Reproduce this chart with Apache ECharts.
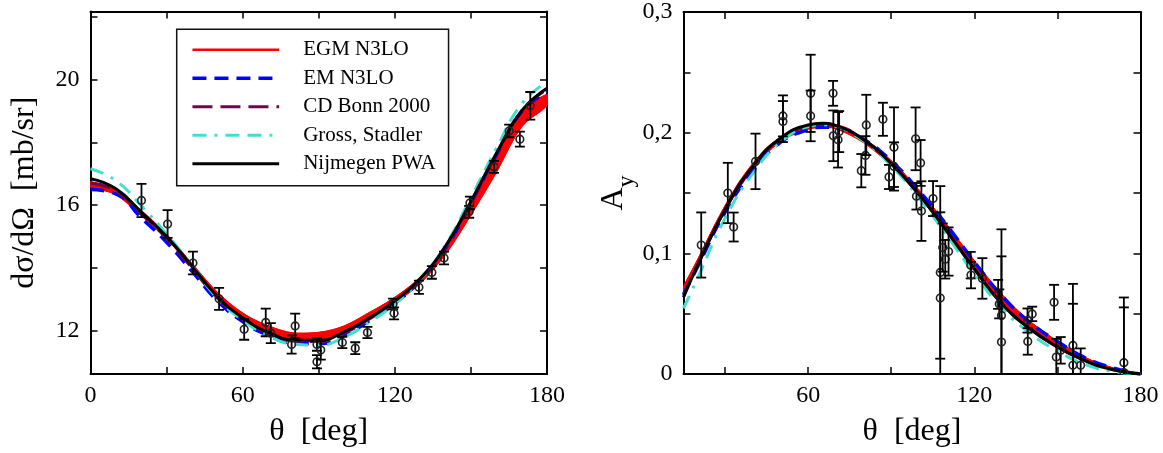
<!DOCTYPE html>
<html>
<head>
<meta charset="utf-8">
<script src="https://cdn.jsdelivr.net/npm/echarts@6/dist/echarts.min.js"></script>
<style>html,body{margin:0;padding:0;background:#fff;}#c{width:1163px;height:453px;}</style>
</head>
<body>
<div id="c"></div>
<script>
// ---------- Left panel: differential cross section ----------
const thetaL = [0,10,20,30,40,50,60,70,80,90,100,110,120,130,140,150,160,170,180];
const nijL   = [16.84,16.52,15.78,15.00,14.06,13.10,12.42,11.96,11.72,11.70,11.97,12.42,12.95,13.66,14.70,16.12,17.64,19.00,19.72];
const egmLoL = [16.58,16.34,15.68,14.94,14.02,13.08,12.40,11.98,11.72,11.72,11.92,12.38,12.90,13.52,14.45,15.70,17.05,18.50,19.17];
const egmHiL = [16.74,16.48,15.82,15.06,14.13,13.22,12.56,12.16,11.93,11.95,12.15,12.58,13.06,13.70,14.68,16.05,17.55,18.95,19.52];
const emL    = [16.50,16.36,15.60,14.82,13.90,12.96,12.30,11.86,11.62,11.60,11.85,12.33,12.88,13.62,14.64,16.08,17.60,18.98,19.60];
const cdL    = [16.70,16.45,15.72,14.94,14.00,13.05,12.38,11.92,11.68,11.66,11.93,12.38,12.92,13.64,14.68,16.10,17.62,19.00,19.68];
const grossL = [17.16,16.78,15.98,15.08,14.08,13.04,12.34,11.86,11.58,11.55,11.80,12.28,12.86,13.64,14.74,16.24,17.80,19.22,19.92];
const expThetaL = [20.1,30.4,40.4,50.7,60.6,69.1,71.1,79.3,80.7,89.3,89.3,90.8,99.3,104.4,109.2,119.3,119.7,129.5,134.6,139.4,149.3,149.6,159.1,165.1,169.3,173.4];
const expValL   = [16.15,15.40,14.16,13.02,12.05,12.27,11.93,11.57,12.16,11.57,11.02,11.39,11.63,11.45,11.95,12.86,12.56,13.39,13.86,14.32,15.79,16.07,17.22,18.36,18.10,19.16];
const expErrL   = [0.53,0.44,0.36,0.35,0.33,0.44,0.32,0.29,0.39,0.20,0.21,0.30,0.18,0.19,0.18,0.17,0.19,0.21,0.20,0.20,0.19,0.20,0.19,0.20,0.24,0.44];
const yTicksL  = [12,14,16,18,20,22];
const yLabelsL = [12,16,20];
const xTicksL  = [30,60,90,120,150];
const xLabelsL = [0,60,120,180];

// ---------- Right panel: analyzing power ----------
const thetaR = [15,20,30,40,50,60,65,70,80,90,100,110,120,130,140,150,160,170,180];
const nijR   = [0.0635,0.0896,0.1364,0.1720,0.1955,0.2064,0.2078,0.2059,0.1941,0.1743,0.1487,0.1185,0.0870,0.0580,0.0375,0.0225,0.0110,0.0035,0.0];
const egmLoR = [0.066,0.089,0.135,0.170,0.193,0.203,0.2045,0.2035,0.192,0.173,0.148,0.118,0.087,0.058,0.037,0.0215,0.0105,0.0035,0.0];
const egmHiR = [0.072,0.094,0.139,0.174,0.196,0.206,0.2075,0.2065,0.195,0.1765,0.152,0.1235,0.0935,0.0655,0.0435,0.027,0.0135,0.0050,0.0005];
const emR    = [0.066,0.0885,0.134,0.168,0.192,0.2025,0.2045,0.204,0.1945,0.1765,0.152,0.1235,0.093,0.0645,0.043,0.027,0.0135,0.005,0.0];
const cdR    = [0.065,0.090,0.136,0.1715,0.195,0.2055,0.207,0.2055,0.194,0.1745,0.149,0.119,0.0875,0.0585,0.038,0.023,0.0112,0.0036,0.0];
const grossR = [0.0545,0.079,0.129,0.166,0.192,0.205,0.2065,0.205,0.193,0.1725,0.146,0.115,0.083,0.0545,0.034,0.019,0.008,0.002,0.0];
const expThetaR = [21.4,31.0,33.1,41.0,50.9,50.9,60.9,60.9,69.0,69.1,70.8,71.2,79.2,80.7,81.0,87.0,89.2,91.0,91.0,98.8,99.1,100.6,100.9,105.1,107.7,107.7,108.6,109.5,110.7,118.7,118.8,122.9,128.6,129.0,129.8,129.8,139.2,140.9,139.3,148.8,149.6,151.2,155.6,155.6,158.4,174.0,174.0];
const expValR   = [0.1069,0.150,0.1218,0.1762,0.2139,0.2092,0.2326,0.2139,0.2326,0.1974,0.1941,0.2009,0.1685,0.1811,0.2064,0.2111,0.1633,0.188,0.172,0.1949,0.1473,0.1749,0.135,0.1454,0.0842,0.063,0.1048,0.0951,0.1015,0.0902,0.082,0.0792,0.066,0.0581,0.0484,0.0265,0.0443,0.0498,0.027,0.0594,0.0141,0.0196,0.0237,0.0072,0.0072,0.0094,0.0012];
const expErrR   = [0.027,0.025,0.012,0.023,0.017,0.017,0.032,0.021,0.0103,0.021,0.023,0.017,0.0138,0.016,0.025,0.0137,0.010,0.033,0.020,0.026,0.011,0.019,0.0247,0.0145,0.0715,0.071,0.020,0.016,0.020,0.011,0.011,0.0168,0.012,0.012,0.0715,0.071,0.010,0.006,0.011,0.0145,0.015,0.011,0.051,0.051,0.014,0.054,0.054];
const yTicksR  = [0.05,0.1,0.15,0.2,0.25];
const yLabelsR = [0,0.1,0.2,0.3];
const xTicksR  = [30,60,90,120,150];
const xLabelsR = [60,120,180];

// ---------- helpers ----------
const FONT = 'Liberation Serif';
const zip = (xs, ys) => xs.map((x, i) => [x, ys[i]]);
const zip3 = (a, b, c) => a.map((x, i) => [x, b[i], c[i]]);

function errRender(params, api) {
  const x = api.value(0), y = api.value(1), e = api.value(2);
  const p = api.coord([x, y]);
  const hi = api.coord([x, y + e]);
  const lo = api.coord([x, y - e]);
  const cw = 5;
  const st = { stroke: '#000', lineWidth: 1.8, fill: null };
  return {
    type: 'group',
    children: [
      { type: 'line', shape: { x1: p[0], y1: hi[1], x2: p[0], y2: lo[1] }, style: st },
      { type: 'line', shape: { x1: p[0] - cw, y1: hi[1], x2: p[0] + cw, y2: hi[1] }, style: st },
      { type: 'line', shape: { x1: p[0] - cw, y1: lo[1], x2: p[0] + cw, y2: lo[1] }, style: st },
      { type: 'circle', shape: { cx: p[0], cy: p[1], r: 3.8 }, style: { fill: 'none', stroke: '#222', lineWidth: 1.6 } }
    ]
  };
}

// band polygon (upper edge forward, lower edge backward), drawn once
function bandRender(xs, lo, hi) {
  return function (params, api) {
    if (params.dataIndex !== 0) return null;
    const up = xs.map((x, i) => api.coord([x, hi[i]]));
    const dn = xs.map((x, i) => api.coord([x, lo[i]])).reverse();
    return {
      type: 'group',
      children: [
        { type: 'polyline', shape: { points: up, smooth: 0.35 }, style: { stroke: '#ff0000', lineWidth: 1.5, fill: null } },
        { type: 'polyline', shape: { points: dn, smooth: 0.35 }, style: { stroke: '#ff0000', lineWidth: 1.5, fill: null } },
        { type: 'polygon', shape: { points: up.concat(dn), smooth: 0.35 }, style: { fill: '#ff0000', stroke: '#ff0000', lineWidth: 1 } }
      ]
    };
  };
}

const axLine = { show: true, onZero: false, lineStyle: { color: '#000', width: 2 } };
const tickStyle = { color: '#000', width: 1.5 };
const labelStyle = { color: '#000', fontFamily: FONT, fontSize: 24 };
const nameStyle = { color: '#000', fontFamily: FONT, fontSize: 32 };

function xAx(grid, pos, min, max, ticks, labels, withName) {
  return {
    type: 'value', gridIndex: grid, position: pos, min: min, max: max,
    axisLine: axLine,
    axisTick: { show: true, inside: true, length: 7, lineStyle: tickStyle, customValues: ticks },
    axisLabel: withName ? Object.assign({ show: true, margin: 10, customValues: labels }, labelStyle) : { show: false },
    splitLine: { show: false },
    name: withName ? 'θ  [deg]' : '',
    nameLocation: 'middle', nameGap: 42, nameTextStyle: nameStyle
  };
}
function yAx(grid, pos, min, max, ticks, labels, withName, name, nameGap, fmt, nameTS) {
  return {
    type: 'value', gridIndex: grid, position: pos, min: min, max: max,
    axisLine: axLine,
    axisTick: { show: true, inside: true, length: 7, lineStyle: tickStyle, customValues: ticks },
    axisLabel: withName ? Object.assign({ show: true, margin: 11, customValues: labels, formatter: fmt }, labelStyle) : { show: false },
    splitLine: { show: false },
    name: withName ? name : '',
    nameLocation: 'middle', nameGap: nameGap, nameTextStyle: nameTS || nameStyle
  };
}

function lineS(name, xi, yi, data, color, width, dash, z) {
  return {
    type: 'line', name: name, xAxisIndex: xi, yAxisIndex: yi, data: data,
    smooth: true, symbol: 'none', showSymbol: false, z: z,
    lineStyle: { color: color, width: width, type: dash },
    itemStyle: { color: color }
  };
}
function bandS(xi, yi, xs, lo, hi) {
  return [
    {
      type: 'custom', name: 'EGM band', xAxisIndex: xi, yAxisIndex: yi, clip: true, z: 2, silent: true,
      renderItem: bandRender(xs, lo, hi), data: zip3(xs, lo, hi), encode: { x: 0, y: [1, 2] }
    },
    lineS('EGM N3LO', xi, yi, zip(xs, hi), '#ff0000', 1.2, 'solid', 2)
  ];
}

const DASH_EM = [14, 8];
const DASH_CD = [20, 8];
const DASH_GS = [14, 8, 3, 8, 14, 8];
const C_EM = '#0000ff', C_CD = '#6b0a4a', C_GS = '#40e0d0', C_NIJ = '#000000';

const fmtR = v => (v === 0 ? '0' : String(v).replace('.', ','));

const option = {
  backgroundColor: '#fff',
  animation: false,
  grid: [
    { left: 90.5, top: 11.5, width: 456.5, height: 363.5 },
    { left: 683.5, top: 11.5, width: 457, height: 363.8 }
  ],
  xAxis: [
    xAx(0, 'bottom', 0, 180, xTicksL, xLabelsL, true),
    xAx(0, 'top', 0, 180, xTicksL, xLabelsL, false),
    xAx(1, 'bottom', 15, 180, xTicksR, xLabelsR, true),
    xAx(1, 'top', 15, 180, xTicksR, xLabelsR, false)
  ],
  yAxis: [
    yAx(0, 'left', 10.63, 22.16, yTicksL, yLabelsL, true, 'dσ/dΩ  [mb/sr]', 50, null),
    yAx(0, 'right', 10.63, 22.16, yTicksL, yLabelsL, false),
    yAx(1, 'left', 0, 0.3, yTicksR, yLabelsR, true, '{a|A}{s|y}', 45, fmtR,
      { color: '#000', fontFamily: FONT, rich: {
        a: { fontFamily: FONT, fontSize: 32, lineHeight: 50, color: '#000' },
        s: { fontFamily: FONT, fontSize: 24, lineHeight: 24, verticalAlign: 'bottom', color: '#000' }
      } }),
    yAx(1, 'right', 0, 0.3, yTicksR, yLabelsR, false)
  ],
  legend: {
    left: 176.7, top: 29.3, orient: 'vertical',
    padding: [10, 13, 11.5, 14],
    itemWidth: 86.7, itemHeight: 14, itemGap: 7.5,
    borderColor: '#111', borderWidth: 1.5,
    backgroundColor: '#fff',
    selectedMode: false,
    itemStyle: { opacity: 0 },
    textStyle: { color: '#000', fontFamily: FONT, fontSize: 21, lineHeight: 21, padding: [0, 0, 0, 19] },
    data: [
      { name: 'EGM N3LO', lineStyle: { width: 2.5 } },
      { name: 'EM N3LO', lineStyle: { width: 3.5 } },
      { name: 'CD Bonn 2000', lineStyle: { width: 3 } },
      { name: 'Gross, Stadler', lineStyle: { width: 3 } },
      { name: 'Nijmegen PWA', lineStyle: { width: 3 } }
    ]
  },
  series: [
    ...bandS(0, 0, thetaL, egmLoL, egmHiL),
    lineS('EM N3LO', 0, 0, zip(thetaL, emL), C_EM, 3.5, DASH_EM, 3),
    lineS('CD Bonn 2000', 0, 0, zip(thetaL, cdL), C_CD, 3, DASH_CD, 3),
    lineS('Gross, Stadler', 0, 0, zip(thetaL, grossL), C_GS, 3, DASH_GS, 3),
    lineS('Nijmegen PWA', 0, 0, zip(thetaL, nijL), C_NIJ, 3, 'solid', 4),
    {
      type: 'custom', name: 'dataL', xAxisIndex: 0, yAxisIndex: 0, clip: true, z: 5,
      renderItem: errRender, data: zip3(expThetaL, expValL, expErrL),
      encode: { x: 0, y: 1 }
    },
    ...bandS(2, 2, thetaR, egmLoR, egmHiR),
    lineS('EM N3LO', 2, 2, zip(thetaR, emR), C_EM, 3.5, DASH_EM, 3),
    lineS('CD Bonn 2000', 2, 2, zip(thetaR, cdR), C_CD, 3, DASH_CD, 3),
    lineS('Gross, Stadler', 2, 2, zip(thetaR, grossR), C_GS, 3, DASH_GS, 3),
    lineS('Nijmegen PWA', 2, 2, zip(thetaR, nijR), C_NIJ, 3, 'solid', 4),
    {
      type: 'custom', name: 'dataR', xAxisIndex: 2, yAxisIndex: 2, clip: true, z: 5,
      renderItem: errRender, data: zip3(expThetaR, expValR, expErrR),
      encode: { x: 0, y: 1 }
    }
  ]
};

const chart = echarts.init(document.getElementById('c'), null, { renderer: 'canvas' });
chart.setOption(option);
</script>
</body>
</html>
